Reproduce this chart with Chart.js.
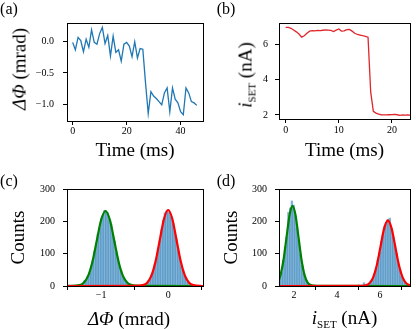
<!DOCTYPE html>
<html>
<head>
<meta charset="utf-8">
<script src="https://cdn.jsdelivr.net/npm/chart.js@4.4.1/dist/chart.umd.min.js"></script>
<style>
  html, body { margin: 0; padding: 0; background: #fff; }
  #fig { position: relative; width: 416px; height: 329px; overflow: hidden;
         font-family: "Liberation Serif", "DejaVu Serif", serif; color: #000; }
  canvas { position: absolute; }
  .lbl { position: absolute; transform: translate(-50%, -50%); white-space: nowrap; line-height: 1; font-size: 19px; }
  .rot { transform: translate(-50%, -50%) rotate(-90deg); }
  .tag { position: absolute; transform: translate(-50%, -50%); line-height: 1; font-size: 16px; }
  .sub { font-size: 11px; position: relative; top: 4px; }
</style>
</head>
<body>
<div id="fig">
  <canvas id="ca" width="208" height="165" style="left:0;top:0"></canvas>
  <canvas id="cb" width="208" height="165" style="left:208px;top:0"></canvas>
  <canvas id="cc" width="208" height="164" style="left:0;top:165px"></canvas>
  <canvas id="cd" width="208" height="164" style="left:208px;top:165px"></canvas>

  <div class="tag" style="left:9px;top:8.5px">(a)</div>
  <div class="tag" style="left:226px;top:8.5px">(b)</div>
  <div class="tag" style="left:9px;top:181px">(c)</div>
  <div class="tag" style="left:226px;top:181px">(d)</div>

  <div class="lbl rot" style="left:18.5px;top:69px"><i>ΔΦ</i> (mrad)</div>
  <div class="lbl rot" style="left:244.5px;top:75px"><i>i</i><span class="sub">SET</span> (nA)</div>
  <div class="lbl" style="left:129px;top:318px"><i>ΔΦ</i> (mrad)</div>
  <div class="lbl" style="left:344.5px;top:317px"><i>i</i><span class="sub">SET</span> (nA)</div>
</div>
<script>
// ---- (a) phase trace ----
const timeA = [0, 1, 2, 3, 4, 5, 6, 7, 8, 9, 10, 11, 12, 13, 14, 15, 16, 17, 18, 19, 20, 21, 22, 23,
  24, 25, 26, 27, 28, 29, 30, 31, 32, 33, 34, 35, 36, 37, 38, 39, 40, 41, 42, 43, 44, 45, 46];
const phaseA = [-0.01, -0.13, 0.07, 0.02, -0.16, 0.04, -0.09, 0.19, -0.01, -0.04, 0.13, 0.23, -0.03,
  0.10, -0.23, 0.09, -0.17, -0.13, -0.31, -0.04, -0.01, -0.07, -0.24, 0.0, -0.26, -0.11, -0.12,
  -0.66, -1.15, -0.80, -0.87, -0.91, -0.96, -1.01, -0.82, -0.74, -1.12, -0.74, -0.92, -0.98,
  -1.12, -1.17, -0.74, -0.82, -0.96, -0.98, -1.02];
const aXTicks = [0, 20, 40];
const aXLabels = ["0", "20", "40"];
const aYTicks = [-1.0, -0.5, 0.0];
const aYLabels = ["\u22121.0", "\u22120.5", "0.0"];

// ---- (b) SET current trace ----
const timeB = [0, 0.5, 1, 1.5, 2, 2.5, 3, 3.5, 4, 4.5, 5, 5.5, 6, 6.5, 7, 7.5, 8, 8.5, 9, 9.5, 10,
  10.5, 11, 11.5, 12, 12.5, 13, 13.5, 14, 14.5, 15, 15.5, 16, 16.5, 17, 17.5, 18, 18.5, 19, 19.5,
  20, 20.5, 21, 21.5, 22, 22.5, 23, 23.5];
const currentB = [6.95, 6.95, 6.90, 6.80, 6.70, 6.58, 6.40, 6.48, 6.62, 6.74, 6.77, 6.76, 6.78,
  6.77, 6.79, 6.81, 6.80, 6.78, 6.72, 6.80, 6.86, 6.74, 6.76, 6.83, 6.84, 6.74, 6.62, 6.55, 6.52,
  6.48, 6.45, 6.40, 3.30, 2.20, 2.10, 2.04, 2.01, 2.00, 2.00, 2.01, 2.02, 2.03, 2.01, 1.98, 2.00,
  1.99, 2.00, 1.98];
const bXTicks = [0, 10, 20];
const bXLabels = ["0", "10", "20"];
const bYTicks = [2, 4, 6];
const bYLabels = ["2", "4", "6"];

// ---- (c) phase histogram ----
const binsC = [-1.3, -1.275, -1.25, -1.225, -1.2, -1.175, -1.15, -1.125, -1.1, -1.075, -1.05, -1.025,
  -1.0, -0.975, -0.95, -0.925, -0.9, -0.875, -0.85, -0.825, -0.8, -0.775, -0.75, -0.725, -0.7,
  -0.675, -0.65, -0.625, -0.6, -0.575, -0.55, -0.525, -0.5, -0.475, -0.45, -0.425, -0.4, -0.375,
  -0.35, -0.325, -0.3, -0.275, -0.25, -0.225, -0.2, -0.175, -0.15, -0.125, -0.1, -0.075, -0.05,
  -0.025, 0, 0.025, 0.05, 0.075, 0.1, 0.125, 0.15, 0.175, 0.2, 0.225, 0.25, 0.275, 0.3, 0.325, 0.35];
const countsC = [5, 9, 16, 18, 31, 40, 62, 78, 108, 126, 161, 178, 209, 218, 234, 228, 226, 204, 190,
  158, 139, 106, 87, 60, 47, 29, 22, 12, 9, 8, 3, 1, 0, 1, 0, 1, 2, 3, 6, 7, 15, 19, 34, 44, 68,
  86, 118, 140, 174, 203, 226, 232, 229, 227, 213, 192, 168, 146, 110, 90, 62, 48, 30, 22, 12, 7, 4];
const fitGreenCx = [-1.5, -1.325, -1.26, -1.195, -1.13, -1.065, -1.0, -0.935, -0.87, -0.805, -0.74,
  -0.675, -0.61, -0.545, -0.415, 0.52];
const fitGreenCy = [0.1, 2.6, 10.2, 31.4, 75.3, 140.7, 204.7, 232, 204.7, 140.7, 75.3, 31.4, 10.2,
  2.6, 0.1, 0];
const fitRedCx = [-1.5, -0.5, -0.375, -0.3125, -0.25, -0.1875, -0.125, -0.0625, 0, 0.0625, 0.125,
  0.1875, 0.25, 0.3125, 0.375, 0.52];
const fitRedCy = [0, 0.1, 2.6, 10.3, 31.8, 76.3, 142.5, 207.4, 235, 207.4, 142.5, 76.3, 31.8, 10.3,
  2.6, 0];
const cXTicks = [-1, 0];
const cXLabels = ["\u22121", "0"];
const countTicks = [0, 100, 200, 300];
const countLabels = ["0", "100", "200", "300"];

// ---- (d) current histogram ----
const binsD = [1.34, 1.42, 1.50, 1.58, 1.66, 1.74, 1.82, 1.90, 1.98, 2.06, 2.14, 2.22, 2.30, 2.38,
  2.46, 2.54, 2.62, 2.70, 2.78, 2.86, 2.94, 3.02, 3.10, 3.18, 3.26, 3.34, 3.42, 3.50, 3.58, 3.66,
  3.74, 3.82, 3.90, 3.98, 4.06, 4.14, 4.22, 4.30, 4.38, 4.46, 4.54, 4.62, 4.70, 4.78, 4.86, 4.94,
  5.02, 5.10, 5.18, 5.26, 5.34, 5.42, 5.50, 5.58, 5.66, 5.74, 5.82, 5.90, 5.98, 6.06, 6.14, 6.22,
  6.30, 6.38, 6.46, 6.54, 6.62, 6.70, 6.78, 6.86, 6.94, 7.02, 7.10, 7.18, 7.26, 7.34];
const countsD = [24, 42, 80, 122, 152, 228, 241, 263, 250, 218, 180, 140, 98, 64, 38, 20, 11, 7, 4,
  2, 3, 1, 2, 1, 0, 1, 2, 1, 0, 1, 2, 1, 0, 1, 2, 1, 0, 1, 1, 2, 0, 1, 2, 1, 1, 2, 3,
  2, 3, 10, 4, 6, 9, 16, 21, 38, 52, 80, 103, 138, 158, 186, 197, 205, 210, 176, 152, 124, 100,
  69, 50, 30, 19, 11, 6, 3];
const fitGreenDx = [1.3, 1.37, 1.51, 1.65, 1.79, 1.93, 2.07, 2.21, 2.35, 2.49, 2.63, 2.77, 3.05, 7.4];
const fitGreenDy = [19.7, 33.6, 80.5, 150.4, 218.9, 248, 218.9, 150.4, 80.5, 33.6, 10.9, 2.8, 0.1, 0];
const fitRedDx = [1.3, 5.01, 5.35, 5.52, 5.69, 5.86, 6.03, 6.2, 6.37, 6.54, 6.71, 6.88, 7.05, 7.22, 7.4];
const fitRedDy = [0, 0.1, 2.3, 8.9, 27.5, 65.9, 123.1, 179.1, 203, 179.1, 123.1, 65.9, 27.5, 8.9, 2.2];
const dXTicks = [2, 4, 6];
const dXLabels = ["2", "4", "6"];

const SERIF = '"Liberation Serif", "DejaVu Serif", serif';
const BLUE = "#1f77b4";
const pts = (xs, ys) => xs.map((x, i) => ({ x: x, y: ys[i] }));

// black box round the plot area, like matplotlib spines
const framePlugin = {
  id: "frame",
  afterDatasetsDraw(chart) {
    const { ctx, chartArea: a } = chart;
    ctx.save();
    ctx.strokeStyle = "#000";
    ctx.lineWidth = 1;
    ctx.strokeRect(Math.round(a.left) + 0.5, Math.round(a.top) + 0.5,
      Math.round(a.right - a.left), Math.round(a.bottom - a.top));
    ctx.restore();
  },
};

function axis(min, max, ticks, labels, pad, fit, isX, title) {
  const s = {
    type: "linear",
    min: min,
    max: max,
    offset: false,
    afterBuildTicks: (sc) => { sc.ticks = ticks.map((v) => ({ value: v })); },
    afterFit: (sc) => { if (isX) sc.height = fit; else sc.width = fit; },
    ticks: {
      color: "#000",
      padding: pad,
      maxRotation: 0,
      autoSkip: false,
      font: { family: SERIF, size: 10, lineHeight: 1 },
      callback: (v, i) => labels[i],
    },
    grid: { drawOnChartArea: false, drawTicks: true, tickLength: 4, tickColor: "#000", tickWidth: 1 },
    border: { display: false },
  };
  if (title) {
    s.title = {
      display: true,
      text: title.text,
      color: "#000",
      font: { family: SERIF, size: 19, lineHeight: 1 },
      padding: title.padding,
    };
  }
  return s;
}

function baseOptions(pad, x, y) {
  return {
    responsive: false,
    animation: false,
    events: [],
    layout: { padding: pad },
    plugins: { legend: { display: false }, tooltip: { enabled: false } },
    scales: { x: x, y: y },
  };
}

function fitLine(xs, ys, color, order) {
  return {
    type: "line",
    data: pts(xs, ys),
    borderColor: color,
    borderWidth: 2.2,
    pointRadius: 0,
    cubicInterpolationMode: "monotone",
    order: order,
  };
}

function histBars(xs, ys) {
  return {
    type: "bar",
    data: pts(xs, ys),
    backgroundColor: "rgba(31, 119, 180, 0.55)",
    barPercentage: 1,
    categoryPercentage: 1,
    order: 3,
  };
}

// (a)
new Chart(document.getElementById("ca"), {
  type: "line",
  data: { datasets: [{ data: pts(timeA, phaseA), borderColor: BLUE, borderWidth: 1.3, pointRadius: 0 }] },
  options: baseOptions({ top: 23, right: 5, left: 0, bottom: 0 },
    axis(-2.1, 48.3, aXTicks, aXLabels, 1, 44, true, { text: "Time (ms)", padding: { top: 0, bottom: 4.5 } }),
    axis(-1.27, 0.30, aYTicks, aYLabels, 9, 67, false)),
  plugins: [framePlugin],
});

// (b)
new Chart(document.getElementById("cb"), {
  type: "line",
  data: { datasets: [{ data: pts(timeB, currentB), borderColor: "#e0262b", borderWidth: 1.3, pointRadius: 0 }] },
  options: baseOptions({ top: 23, right: 6, left: 0, bottom: 0 },
    axis(-1.26, 23.4, bXTicks, bXLabels, 2, 46, true, { text: "Time (ms)", padding: { top: 0, bottom: 4 } }),
    axis(1.77, 7.2, bYTicks, bYLabels, 7, 71, false)),
  plugins: [framePlugin],
});

// (c)
new Chart(document.getElementById("cc"), {
  type: "bar",
  data: {
    datasets: [
      histBars(binsC, countsC),
      fitLine(fitGreenCx, fitGreenCy, "#008000", 2),
      fitLine(fitRedCx, fitRedCy, "#ff0000", 1),
    ],
  },
  options: baseOptions({ top: 24, right: 5, left: 0, bottom: 0 },
    axis(-1.51, 0.52, cXTicks, cXLabels, 0, 43, true),
    axis(0, 300, countTicks, countLabels, 8, 67, false, { text: "Counts", padding: { top: 9.5, bottom: 0 } })),
  plugins: [framePlugin],
});

// (d)
new Chart(document.getElementById("cd"), {
  type: "bar",
  data: {
    datasets: [
      histBars(binsD, countsD),
      fitLine(fitGreenDx, fitGreenDy, "#008000", 2),
      fitLine(fitRedDx, fitRedDy, "#ff0000", 1),
    ],
  },
  options: baseOptions({ top: 24, right: 6, left: 0, bottom: 0 },
    axis(1.3, 7.4, dXTicks, dXLabels, 0, 43, true),
    axis(0, 300, countTicks, countLabels, 8, 71, false, { text: "Counts", padding: { top: 14.5, bottom: 0 } })),
  plugins: [framePlugin],
});
</script>
</body>
</html>
